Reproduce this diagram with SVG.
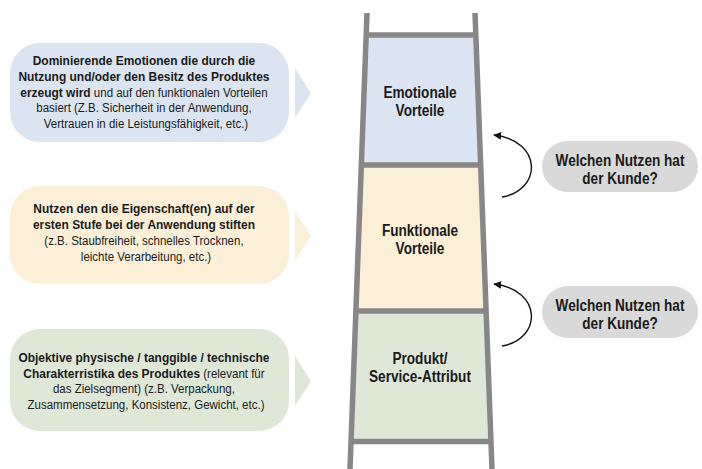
<svg xmlns="http://www.w3.org/2000/svg" width="702" height="469" viewBox="0 0 702 469">
  <defs>
    <style>
      .txt { font-family: "Liberation Sans", Arial, sans-serif; fill: #1a1a1a; text-anchor: middle; }
      .b { font-weight: bold; font-size: 13px; }
      .r { font-weight: normal; font-size: 12.5px; }
      .cond { font-family: "Liberation Sans", Arial, sans-serif; font-weight: bold; font-size: 17px; fill: #1a1a1a; text-anchor: middle; }
      .rail { stroke: #878787; stroke-width: 5.5; fill: none; }
      .rung { stroke: #878787; stroke-width: 5.5; fill: none; }
      .blue { fill: #dbe5f1; }
      .beige { fill: #fcefd7; }
      .green { fill: #dfe8d7; }
      .pill { fill: #d9d9d9; }
      .conn { fill: none; stroke: #111111; stroke-width: 1.4; }
    </style>
    <marker id="head" viewBox="0 0 10 10" refX="9" refY="5" markerWidth="8" markerHeight="8" markerUnits="userSpaceOnUse" orient="auto">
      <path d="M0,0 L10,5 L0,10 z" fill="#111111"/>
    </marker>
  </defs>

  <!-- ladder panels -->
  <g id="emotionale-vorteile">
    <polygon class="blue" points="366.2,35 475.8,35 480.5,165 361.3,165"/>
    <text class="cond" transform="translate(420,98) scale(0.8,1)"><tspan x="0" y="0">Emotionale</tspan><tspan x="0" y="18">Vorteile</tspan></text>
  </g>
  <g id="funktionale-vorteile">
    <polygon class="beige" points="361.3,165 480.5,165 485.8,311 355.9,311"/>
    <text class="cond" transform="translate(420,236) scale(0.8,1)"><tspan x="0" y="0">Funktionale</tspan><tspan x="0" y="18">Vorteile</tspan></text>
  </g>
  <g id="produkt-attribut">
    <polygon class="green" points="355.9,311 485.8,311 490.5,441.5 351,441.5"/>
    <text class="cond" transform="translate(420,364) scale(0.8,1)"><tspan x="0" y="0">Produkt/</tspan><tspan x="0" y="18">Service-Attribut</tspan></text>
  </g>

  <!-- ladder frame -->
  <g id="ladder">
    <line class="rung" x1="366.2" y1="35" x2="475.8" y2="35"/>
    <line class="rung" x1="361.3" y1="165" x2="480.5" y2="165"/>
    <line class="rung" x1="355.9" y1="311" x2="485.8" y2="311"/>
    <line class="rung" x1="351" y1="441.5" x2="490.5" y2="441.5"/>
    <line class="rail" x1="367" y1="13" x2="350" y2="469"/>
    <line class="rail" x1="475" y1="13" x2="492" y2="469"/>
  </g>

  <!-- description callouts -->
  <g id="desc-emotional">
    <rect class="blue" x="10" y="43" width="279" height="99" rx="30" ry="30"/>
    <polygon class="blue" points="295,68 311,93 295,118"/>
    <text class="txt" transform="translate(146,0) scale(0.92,1)">
      <tspan class="b" x="0" y="65">Dominierende Emotionen die durch die</tspan>
      <tspan class="b" x="0" y="81">Nutzung und/oder den Besitz des Produktes</tspan>
      <tspan x="0" y="97"><tspan class="b">erzeugt wird</tspan><tspan class="r"> und auf den funktionalen Vorteilen</tspan></tspan>
      <tspan class="r" x="0" y="112.5">basiert (Z.B. Sicherheit in der Anwendung,</tspan>
      <tspan class="r" x="0" y="128">Vertrauen in die Leistungsfähigkeit, etc.)</tspan>
    </text>
  </g>
  <g id="desc-funktional">
    <rect class="beige" x="10" y="186" width="279" height="98" rx="30" ry="30"/>
    <polygon class="beige" points="295,211 311,236 295,261"/>
    <text class="txt" transform="translate(146,0) scale(0.92,1)">
      <tspan class="b" x="0" y="213">Nutzen den die Eigenschaft(en) auf der</tspan>
      <tspan class="b" x="0" y="229">ersten Stufe bei der Anwendung stiften</tspan>
      <tspan class="r" x="0" y="245">(z.B. Staubfreiheit, schnelles Trocknen,</tspan>
      <tspan class="r" x="0" y="261">leichte Verarbeitung, etc.)</tspan>
    </text>
  </g>
  <g id="desc-attribut">
    <rect class="green" x="10" y="329" width="279" height="102" rx="30" ry="30"/>
    <polygon class="green" points="295,356 311,381 295,406"/>
    <text class="txt" transform="translate(146,0) scale(0.92,1)">
      <tspan class="b" x="0" y="362">Objektive physische / tanggible / technische</tspan>
      <tspan x="0" y="378"><tspan class="b">Charakterristika des Produktes</tspan><tspan class="r"> (relevant für</tspan></tspan>
      <tspan class="r" x="0" y="393.5">das Zielsegment) (z.B. Verpackung,</tspan>
      <tspan class="r" x="0" y="409">Zusammensetzung, Konsistenz, Gewicht, etc.)</tspan>
    </text>
  </g>

  <!-- question pills -->
  <g id="frage-1">
    <rect class="pill" x="542" y="141" width="156" height="51" rx="25.5" ry="25.5"/>
    <text class="cond" transform="translate(620,166) scale(0.8,1)"><tspan x="0" y="0">Welchen Nutzen hat</tspan><tspan x="0" y="18">der Kunde?</tspan></text>
  </g>
  <g id="frage-2">
    <rect class="pill" x="542" y="286" width="156" height="52" rx="26" ry="26"/>
    <text class="cond" transform="translate(620,311) scale(0.8,1)"><tspan x="0" y="0">Welchen Nutzen hat</tspan><tspan x="0" y="18">der Kunde?</tspan></text>
  </g>

  <!-- connectors -->
  <g id="connectors">
    <path class="conn" marker-end="url(#head)" d="M502,197 C542,190 543,141 494,135"/>
    <path class="conn" marker-end="url(#head)" d="M502,346 C542,339 543,290 494,284"/>
  </g>
</svg>
